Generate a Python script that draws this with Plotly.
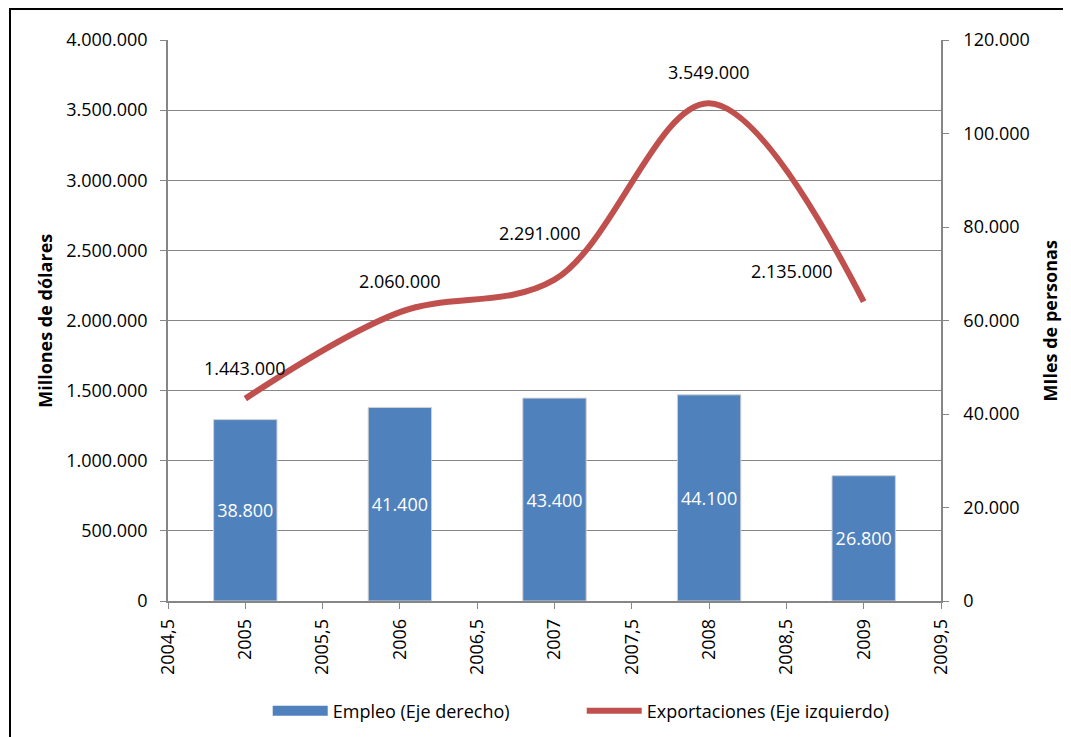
import plotly.graph_objects as go

years = [2005, 2006, 2007, 2008, 2009]
empleo = [38800, 41400, 43400, 44100, 26800]
exportaciones = [1443000, 2060000, 2291000, 3549000, 2135000]
x_tickvals = [2004.5, 2005, 2005.5, 2006, 2006.5, 2007, 2007.5, 2008, 2008.5, 2009, 2009.5]
x_ticktext = ["2004,5", "2005", "2005,5", "2006", "2006,5", "2007", "2007,5", "2008", "2008,5", "2009", "2009,5"]

# label offsets (style)
lbl_xshift = [0, 0, -15, 0, -72]
lbl_yshift = [31, 31, 47, 31, 31]

FONT = "Open Sans"
FS = 18
GRAY = "#868686"
BLUE = "#4F81BD"
RED = "#C0504D"

fig = go.Figure()
fig.add_trace(go.Bar(
    x=years, y=empleo, yaxis="y2", name="Empleo (Eje derecho)", showlegend=False,
    width=0.41, marker=dict(color=BLUE, line=dict(color="#D0D0D0", width=1)),
    texttemplate="%{y:,d}", textposition="inside", insidetextanchor="middle",
    textfont=dict(color="white", size=FS, family=FONT), textangle=0,
))
# legend entry for bars (wide bar-like symbol)
fig.add_trace(go.Scatter(
    x=[None], y=[None], yaxis="y2", name="Empleo (Eje derecho)", mode="lines",
    line=dict(color=BLUE, width=11),
))
fig.add_trace(go.Scatter(
    x=years, y=exportaciones, yaxis="y", name="Exportaciones (Eje izquierdo)",
    mode="lines", line=dict(color=RED, width=6, shape="spline", smoothing=1.0),
))

for xv, yv, dx, dy in zip(years, exportaciones, lbl_xshift, lbl_yshift):
    fig.add_annotation(x=xv, y=yv, xref="x", yref="y", text=f"{yv:,}".replace(",", "."),
                       showarrow=False, xshift=dx, yshift=dy,
                       font=dict(size=FS, color="black", family=FONT))

fig.add_annotation(x=-0.160, y=0.5, xref="paper", yref="paper", xanchor="center", yanchor="middle",
                   text="<b>Millones de dólares</b>",
                   textangle=-90, showarrow=False, font=dict(size=FS, color="black", family=FONT))
fig.add_annotation(x=1.141, y=0.5, xref="paper", yref="paper", xanchor="center", yanchor="middle",
                   text="<b>MIles de personas</b>",
                   textangle=-90, showarrow=False, font=dict(size=FS, color="black", family=FONT))

fig.add_shape(type="rect", xref="paper", yref="paper", x0=-0.2044, x1=1.30, y0=-0.30, y1=1.0553,
              line=dict(color="black", width=2), layer="below")

fig.update_layout(
    width=1071, height=737,
    margin=dict(l=160, r=138, t=32, b=144),
    paper_bgcolor="white", plot_bgcolor="white",
    separators=",.",
    font=dict(family=FONT, size=FS, color="black"),
    showlegend=True,
    legend=dict(orientation="h", x=0.129, xanchor="left", y=-0.196, yanchor="middle",
                font=dict(size=FS, family=FONT), traceorder="normal",
                entrywidth=244, entrywidthmode="pixels", itemwidth=55),
    xaxis=dict(range=[2004.5, 2009.5], tickvals=x_tickvals, ticktext=x_ticktext, tickangle=-90,
               ticks="outside", ticklen=6, tickcolor=GRAY, showline=True, linecolor=GRAY, linewidth=1.5,
               showgrid=False, zeroline=False, ticklabelstandoff=3),
    yaxis=dict(range=[0, 4000000], dtick=500000, tickformat=",d", ticks="outside", ticklen=6,
               tickcolor=GRAY, showline=True, linecolor=GRAY, linewidth=1.5,
               showgrid=True, gridcolor=GRAY, gridwidth=1.2, zeroline=False, ticklabelstandoff=9),
    yaxis2=dict(range=[0, 120000], dtick=20000, tickformat=",d", overlaying="y", side="right",
                ticks="outside", ticklen=6, tickcolor=GRAY, showline=True, linecolor=GRAY, linewidth=1.5,
                showgrid=False, zeroline=False, ticklabelstandoff=11),
    bargap=0.5,
)

fig.write_html("out.html")
